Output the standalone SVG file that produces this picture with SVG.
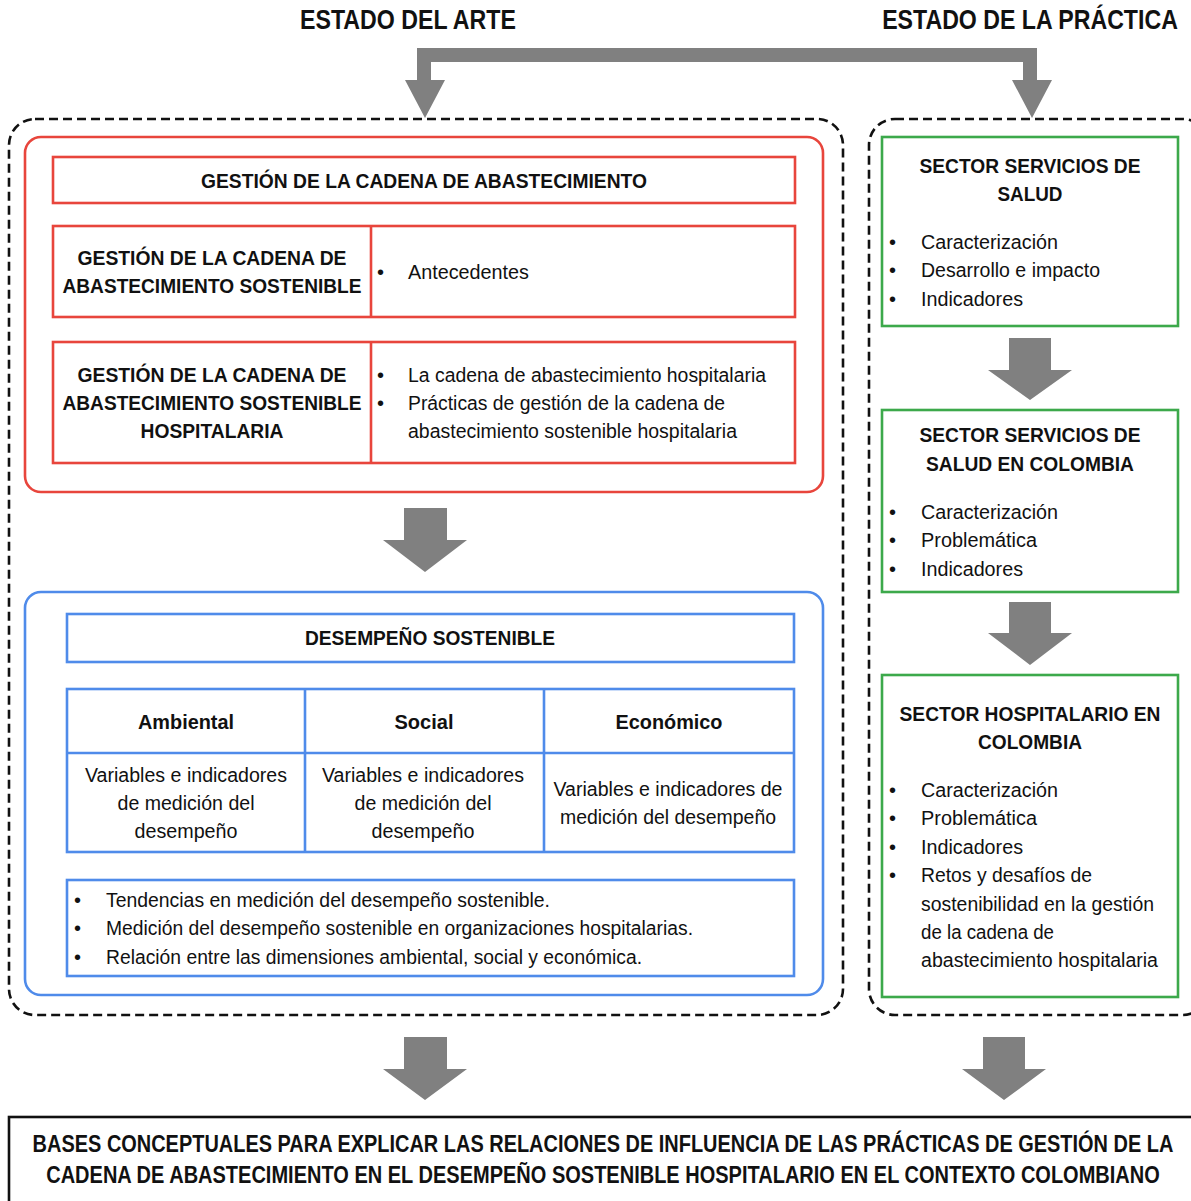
<svg xmlns="http://www.w3.org/2000/svg" width="1191" height="1201" viewBox="0 0 1191 1201">
<style>
text{font-family:"Liberation Sans",Arial,sans-serif;fill:#111;font-size:20px}
.b{font-weight:bold}
.c{text-anchor:middle}
.h{font-size:27px;font-weight:bold}
.f{font-size:23px;font-weight:bold;text-anchor:middle}
.dash{fill:none;stroke:#111;stroke-width:2.6;stroke-dasharray:9 5}
.red{fill:#fff;stroke:#E8453C;stroke-width:2.6}
.blue{fill:#fff;stroke:#4F8BEA;stroke-width:2.6}
.green{fill:#fff;stroke:#3CA94B;stroke-width:2.6}
.arr{fill:#808080}
</style>
<rect width="1191" height="1201" fill="#fff"/>
<g id="titles">
<text class="h" x="408" y="29" text-anchor="middle" textLength="216" lengthAdjust="spacingAndGlyphs">ESTADO DEL ARTE</text>
<text class="h" transform="translate(1030,29) scale(0.88,1)" x="0" y="0" text-anchor="middle" textLength="336" lengthAdjust="spacingAndGlyphs">ESTADO DE LA PRÁCTICA</text>
</g>
<g id="connectors">
<path class="arr" d="M417 48H1037V80H1052L1032 118L1012 80H1023V62H431V80H445L425 118L405 80H417Z"/>
<path class="arr" d="M404 508H447V540H467L425 572L383 540H404Z"/>
<path class="arr" d="M1009 338H1051V370H1072L1030 400L988 370H1009Z"/>
<path class="arr" d="M1009 602H1051V633H1072L1030 665L988 633H1009Z"/>
<path class="arr" d="M404 1037H447V1069H467L425 1100L383 1069H404Z"/>
<path class="arr" d="M983 1037H1025V1069H1046L1004 1100L962 1069H983Z"/>
</g>
<g id="estado-arte">
<rect class="dash" x="9" y="119" width="834" height="896" rx="26"/>
</g>
<g id="estado-practica">
<rect class="dash" x="869" y="119" width="340" height="896" rx="26"/>
</g>
<g id="gestion">
<rect class="red" x="25" y="137" width="798" height="355" rx="16"/>
<rect class="red" x="53" y="157" width="742" height="46"/>
<text class="b c" x="424" y="188" textLength="446" lengthAdjust="spacingAndGlyphs">GESTIÓN DE LA CADENA DE ABASTECIMIENTO</text>
</g>
<g id="gestion-sostenible">
<rect class="red" x="53" y="226" width="742" height="91"/>
<line x1="371" y1="226" x2="371" y2="317" stroke="#E8453C" stroke-width="2.6"/>
<text class="b c" x="212" y="265" textLength="269" lengthAdjust="spacingAndGlyphs">GESTIÓN DE LA CADENA DE</text>
<text class="b c" x="212" y="293" textLength="299" lengthAdjust="spacingAndGlyphs">ABASTECIMIENTO SOSTENIBLE</text>
<text x="377" y="279">•</text>
<text x="408" y="279" textLength="121" lengthAdjust="spacingAndGlyphs">Antecedentes</text>
</g>
<g id="gestion-hospitalaria">
<rect class="red" x="53" y="342" width="742" height="121"/>
<line x1="371" y1="342" x2="371" y2="463" stroke="#E8453C" stroke-width="2.6"/>
<text class="b c" x="212" y="382" textLength="269" lengthAdjust="spacingAndGlyphs">GESTIÓN DE LA CADENA DE</text>
<text class="b c" x="212" y="410" textLength="299" lengthAdjust="spacingAndGlyphs">ABASTECIMIENTO SOSTENIBLE</text>
<text class="b c" x="212" y="438" textLength="143" lengthAdjust="spacingAndGlyphs">HOSPITALARIA</text>
<text x="377" y="382">•</text>
<text x="408" y="382" textLength="358" lengthAdjust="spacingAndGlyphs">La cadena de abastecimiento hospitalaria</text>
<text x="377" y="410">•</text>
<text x="408" y="410" textLength="317" lengthAdjust="spacingAndGlyphs">Prácticas de gestión de la cadena de</text>
<text x="408" y="438" textLength="329" lengthAdjust="spacingAndGlyphs">abastecimiento sostenible hospitalaria</text>
</g>
<g id="desempeno">
<rect class="blue" x="25" y="592" width="798" height="403" rx="16"/>
<rect class="blue" x="67" y="614" width="727" height="48"/>
<text class="b c" x="430" y="645" textLength="250" lengthAdjust="spacingAndGlyphs">DESEMPEÑO SOSTENIBLE</text>
</g>
<g id="dimensiones">
<rect class="blue" x="67" y="689" width="727" height="163"/>
<line x1="67" y1="753" x2="794" y2="753" stroke="#4F8BEA" stroke-width="2.6"/>
<line x1="305" y1="689" x2="305" y2="852" stroke="#4F8BEA" stroke-width="2.6"/>
<line x1="544" y1="689" x2="544" y2="852" stroke="#4F8BEA" stroke-width="2.6"/>
<text class="b c" x="186" y="729" textLength="96" lengthAdjust="spacingAndGlyphs">Ambiental</text>
<text class="b c" x="424" y="729" textLength="59" lengthAdjust="spacingAndGlyphs">Social</text>
<text class="b c" x="669" y="729" textLength="107" lengthAdjust="spacingAndGlyphs">Económico</text>
<text class="c" x="186" y="782" textLength="202" lengthAdjust="spacingAndGlyphs">Variables e indicadores</text>
<text class="c" x="186" y="810" textLength="137" lengthAdjust="spacingAndGlyphs">de medición del</text>
<text class="c" x="186" y="838" textLength="103" lengthAdjust="spacingAndGlyphs">desempeño</text>
<text class="c" x="423" y="782" textLength="202" lengthAdjust="spacingAndGlyphs">Variables e indicadores</text>
<text class="c" x="423" y="810" textLength="137" lengthAdjust="spacingAndGlyphs">de medición del</text>
<text class="c" x="423" y="838" textLength="103" lengthAdjust="spacingAndGlyphs">desempeño</text>
<text class="c" x="668" y="796" textLength="229" lengthAdjust="spacingAndGlyphs">Variables e indicadores de</text>
<text class="c" x="668" y="824" textLength="216" lengthAdjust="spacingAndGlyphs">medición del desempeño</text>
</g>
<g id="tendencias">
<rect class="blue" x="67" y="880" width="727" height="96"/>
<text x="74" y="907">•</text>
<text x="106" y="907" textLength="444" lengthAdjust="spacingAndGlyphs">Tendencias en medición del desempeño sostenible.</text>
<text x="74" y="935">•</text>
<text x="106" y="935" textLength="587" lengthAdjust="spacingAndGlyphs">Medición del desempeño sostenible en organizaciones hospitalarias.</text>
<text x="74" y="964">•</text>
<text x="106" y="964" textLength="536" lengthAdjust="spacingAndGlyphs">Relación entre las dimensiones ambiental, social y económica.</text>
</g>
<g id="sector-salud">
<rect class="green" x="882" y="137" width="296" height="189"/>
<text class="b c" x="1030" y="173" textLength="221" lengthAdjust="spacingAndGlyphs">SECTOR SERVICIOS DE</text>
<text class="b c" x="1030" y="201" textLength="65" lengthAdjust="spacingAndGlyphs">SALUD</text>
<text x="889" y="249">•</text>
<text x="921" y="249" textLength="137" lengthAdjust="spacingAndGlyphs">Caracterización</text>
<text x="889" y="277">•</text>
<text x="921" y="277" textLength="179" lengthAdjust="spacingAndGlyphs">Desarrollo e impacto</text>
<text x="889" y="306">•</text>
<text x="921" y="306" textLength="102" lengthAdjust="spacingAndGlyphs">Indicadores</text>
</g>
<g id="sector-salud-colombia">
<rect class="green" x="882" y="410" width="296" height="182"/>
<text class="b c" x="1030" y="442" textLength="221" lengthAdjust="spacingAndGlyphs">SECTOR SERVICIOS DE</text>
<text class="b c" x="1030" y="471" textLength="208" lengthAdjust="spacingAndGlyphs">SALUD EN COLOMBIA</text>
<text x="889" y="519">•</text>
<text x="921" y="519" textLength="137" lengthAdjust="spacingAndGlyphs">Caracterización</text>
<text x="889" y="547">•</text>
<text x="921" y="547" textLength="116" lengthAdjust="spacingAndGlyphs">Problemática</text>
<text x="889" y="576">•</text>
<text x="921" y="576" textLength="102" lengthAdjust="spacingAndGlyphs">Indicadores</text>
</g>
<g id="sector-hospitalario">
<rect class="green" x="882" y="675" width="296" height="322"/>
<text class="b c" x="1030" y="721" textLength="261" lengthAdjust="spacingAndGlyphs">SECTOR HOSPITALARIO EN</text>
<text class="b c" x="1030" y="749" textLength="104" lengthAdjust="spacingAndGlyphs">COLOMBIA</text>
<text x="889" y="797">•</text>
<text x="921" y="797" textLength="137" lengthAdjust="spacingAndGlyphs">Caracterización</text>
<text x="889" y="825">•</text>
<text x="921" y="825" textLength="116" lengthAdjust="spacingAndGlyphs">Problemática</text>
<text x="889" y="854">•</text>
<text x="921" y="854" textLength="102" lengthAdjust="spacingAndGlyphs">Indicadores</text>
<text x="889" y="882">•</text>
<text x="921" y="882" textLength="171" lengthAdjust="spacingAndGlyphs">Retos y desafíos de</text>
<text x="921" y="911" textLength="233" lengthAdjust="spacingAndGlyphs">sostenibilidad en la gestión</text>
<text x="921" y="939" textLength="133" lengthAdjust="spacingAndGlyphs">de la cadena de</text>
<text x="921" y="967" textLength="237" lengthAdjust="spacingAndGlyphs">abastecimiento hospitalaria</text>
</g>
<g id="bases">
<rect x="9" y="1117" width="1200" height="100" fill="#fff" stroke="#111" stroke-width="2.6"/>
<text class="f" transform="translate(603,1152) scale(0.8,1)" x="0" y="0" textLength="1426" lengthAdjust="spacingAndGlyphs">BASES CONCEPTUALES PARA EXPLICAR LAS RELACIONES DE INFLUENCIA DE LAS PRÁCTICAS DE GESTIÓN DE LA</text>
<text class="f" transform="translate(603,1183) scale(0.8,1)" x="0" y="0" textLength="1392" lengthAdjust="spacingAndGlyphs">CADENA DE ABASTECIMIENTO EN EL DESEMPEÑO SOSTENIBLE HOSPITALARIO EN EL CONTEXTO COLOMBIANO</text>
</g>
</svg>
